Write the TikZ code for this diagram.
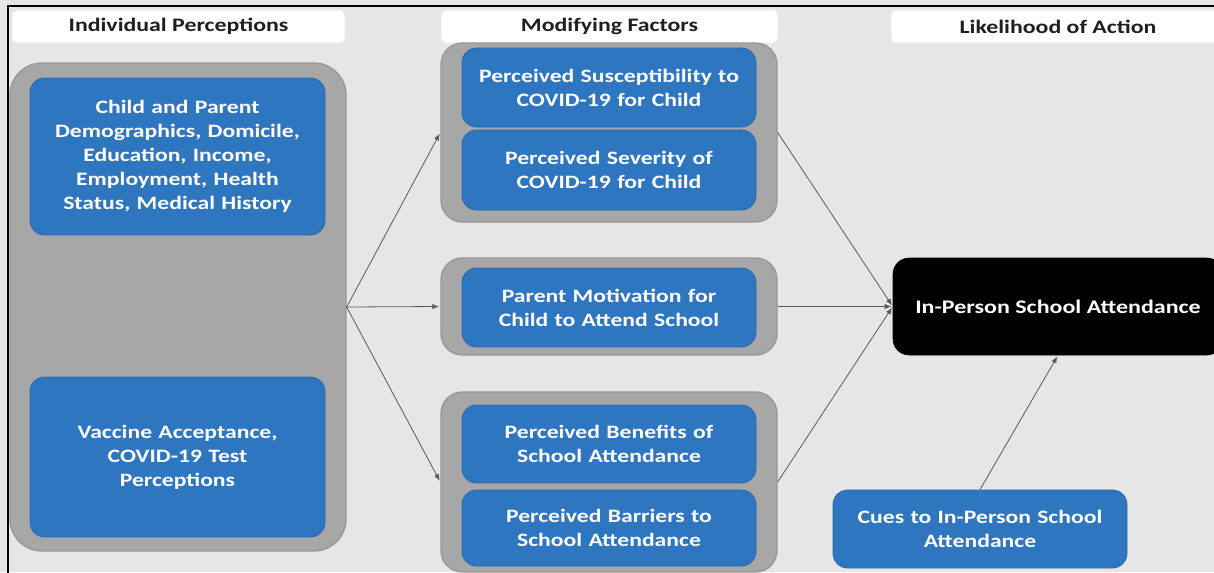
\documentclass[tikz,border=0pt]{standalone}
\usepackage{fontspec}
\setmainfont{Carlito}[FakeStretch=1.25]
\usetikzlibrary{arrows.meta}
\definecolor{bg}{HTML}{E6E6E6}
\definecolor{cont}{HTML}{A7A7A7}
\definecolor{contedge}{HTML}{979797}
\definecolor{blu}{HTML}{2F76C1}
\definecolor{blueedge}{HTML}{2A69AD}
\definecolor{arr}{HTML}{5A5A5A}
\begin{document}
\begin{tikzpicture}[x=0.75pt,y=-0.75pt,
  hdr/.style={fill=white, draw=white!92!black, rounded corners=4pt, minimum height=24.75pt, inner sep=0pt,
    font=\fontsize{14.3}{16}\selectfont\bfseries, text=black!88},
  contbox/.style={fill=cont, draw=contedge, line width=1pt, inner sep=0pt},
  bluebox/.style={fill=blu, draw=blueedge, line width=0.6pt, rounded corners=11pt, inner sep=2pt, align=center,
    text=white, font=\fontsize{14.2}{18}\selectfont\bfseries},
  conn/.style={draw=arr, line width=0.6pt, -{Latex[length=5pt,width=4pt]}, shorten >=1pt}
]
\useasboundingbox (0,0) rectangle (1214,572);
\clip (0,0) rectangle (1214,572);
\fill[bg] (0,0) rectangle (1214,572);
\coordinate (ftl) at (8,6);
\coordinate (ftr) at (1220,6);
\coordinate (fbl) at (8,580);
\draw[black, line width=1.5pt] (ftr) -- (ftl) -- (fbl);

% headers
\node[hdr, minimum width=249.75pt] (h1) at (178.5,26.5) {Individual Perceptions};
\node[hdr, minimum width=252.75pt] (h2) at (609.5,26.5) {Modifying Factors};
\node[hdr, minimum width=250.5pt] (h3) at (1058,26.5) {Likelihood of Action};

% left container
\node[contbox, rounded corners=24pt, minimum width=252pt, minimum height=366pt] (lc) at (178,307) {};
\node[bluebox, text width=205pt, minimum width=221.25pt, minimum height=117.75pt] (l1) at (177.5,156.5)
  {Child and Parent\\Demographics, Domicile,\\Education, Income,\\Employment, Health\\Status, Medical History};
\node[bluebox, text width=205pt, minimum width=221.25pt, minimum height=120pt] (l2) at (177.5,457)
  {Vaccine Acceptance,\\COVID-19 Test\\Perceptions};

% middle containers
\node[contbox, rounded corners=16pt, minimum width=252pt, minimum height=134.25pt] (m1) at (609,132.5) {};
\node[bluebox, text width=212pt, minimum width=220.5pt, minimum height=59.25pt] (m1a) at (609,87.5)
  {Perceived Susceptibility to\\COVID-19 for Child};
\node[bluebox, text width=212pt, minimum width=220.5pt, minimum height=60pt] (m1b) at (609,170)
  {Perceived Severity of\\COVID-19 for Child};

\node[contbox, rounded corners=16pt, minimum width=252pt, minimum height=72.75pt] (m2) at (609,306.5) {};
\node[bluebox, text width=212pt, minimum width=220.5pt, minimum height=59.25pt] (m2a) at (609,307.5)
  {Parent Motivation for\\Child to Attend School};

\node[contbox, rounded corners=16pt, minimum width=252pt, minimum height=135pt] (m3) at (609,482) {};
\node[bluebox, text width=212pt, minimum width=220.5pt, minimum height=58.5pt] (m3a) at (609,444)
  {Perceived Benefits of\\School Attendance};
\node[bluebox, text width=212pt, minimum width=220.5pt, minimum height=57pt] (m3b) at (609,528)
  {Perceived Barriers to\\School Attendance};

% outcome
\node[fill=black, draw=black, rounded corners=12pt, minimum width=247.5pt, minimum height=72.75pt,
  text=white, font=\fontsize{14.4}{18}\selectfont\bfseries, inner sep=0pt] (bb) at (1058,306.5)
  {In-Person School Attendance};
\node[bluebox, text width=212pt, minimum width=220.5pt, minimum height=58.5pt] (cu) at (980,529)
  {Cues to In-Person School\\Attendance};

% connectors
\draw[conn] (lc.east) -- (m1.west);
\draw[conn] (lc.east) -- (m2.west);
\draw[conn] (lc.east) -- (m3.west);
\draw[conn] (m1.east) -- (bb.west);
\draw[conn] (m2.east) -- (bb.west);
\draw[conn] (m3.east) -- (bb.west);
\draw[conn] (cu.north) -- (bb.south);
\end{tikzpicture}
\end{document}
